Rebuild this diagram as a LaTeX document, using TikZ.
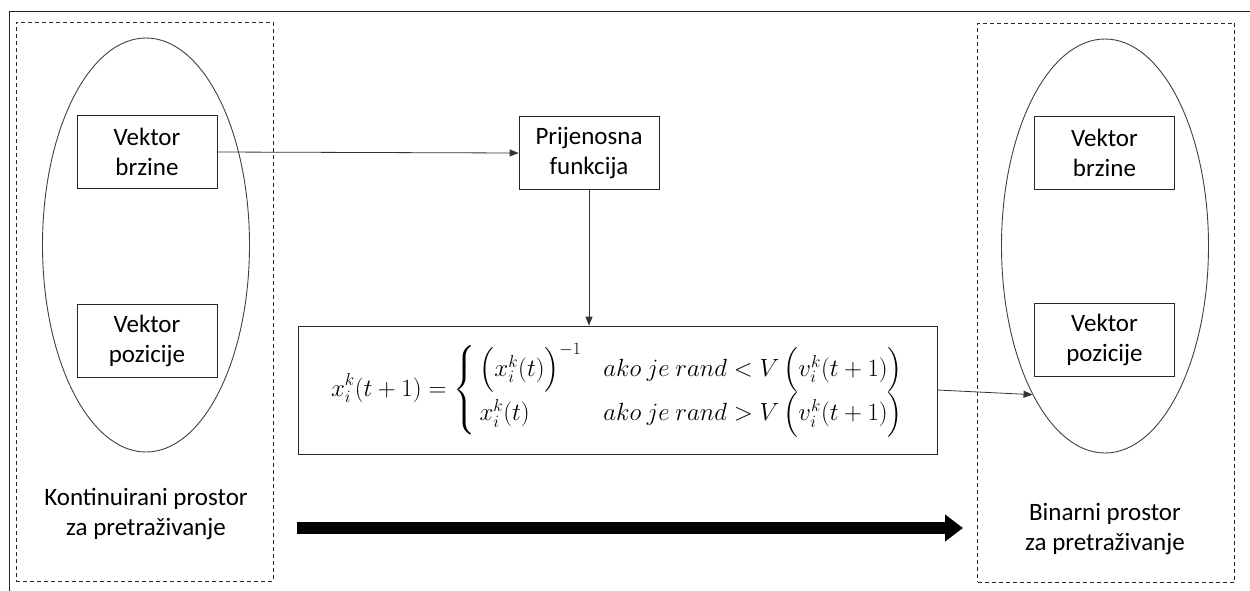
\documentclass[tikz,border=0pt]{standalone}
\usepackage{amsmath}
\usepackage{fontspec}
\setmainfont{Carlito}
\usetikzlibrary{arrows.meta,shapes.geometric}
\begin{document}
\begin{tikzpicture}[x=1pt,y=-1pt,
  thinline/.style={line width=0.8pt,draw=black!80},
  dashbox/.style={draw=black!85,line width=0.8pt,dash pattern=on 4pt off 3pt,inner sep=0pt},
  oval/.style={ellipse,draw=black!75,line width=0.9pt,minimum width=207pt,minimum height=414pt,inner sep=0pt},
  vbox/.style={draw=black!85,line width=0.8pt,minimum width=140pt,minimum height=73pt,align=center,font=\fontsize{25}{30.5}\selectfont,inner sep=0pt},
  lbl/.style={align=center,font=\fontsize{25}{30.5}\selectfont,inner sep=0pt},
  arr/.style={thinline,-{Triangle[length=9pt,width=7pt]}},
]
\useasboundingbox (0,0) rectangle (1250,590);
% outer frame
\draw[line width=0.8pt,draw=black!85] (9,595) -- (9,11) -- (1255,11);
% dashed regions
\node[dashbox,minimum width=257pt,minimum height=559pt] (lreg) at (144.5,301.5) {};
\node[dashbox,minimum width=257pt,minimum height=559pt] (rreg) at (1106,302.5) {};
% ellipses
\node[oval] (lell) at (146,245) {};
\node[oval] (rell) at (1105,246) {};
% boxes
\node[vbox] (lvb) at (147,152) {Vektor\\brzine};
\node[vbox] (lvp) at (147,341) {Vektor\\pozicije};
\node[vbox] (rvb) at (1104.5,153) {Vektor\\brzine};
\node[vbox] (rvp) at (1104.5,340) {Vektor\\pozicije};
\node[vbox] (pf) at (589,153) {Prijenosna\\funkcija};
\node[draw=black!85,line width=0.8pt,minimum width=639pt,minimum height=128pt,inner sep=0pt] (formula) at (617.5,390)
{\fontsize{25}{30}\selectfont$\displaystyle x_i^k(t+1)=\left\{\,\begin{array}{@{}l@{\hspace{22pt}}l@{}}\Bigl(x_i^k(t)\Bigr)^{-1} & ako\ je\ rand<V\,\Bigl(v_i^k(t+1)\Bigr)\\[6pt] x_i^k(t) & ako\ je\ rand>V\,\Bigl(v_i^k(t+1)\Bigr)\end{array}\right.$};
% labels
\node[lbl] (ltxt) at (146,514) {Kontinuirani prostor\\za pretraživanje};
\node[lbl] (rtxt) at (1105,529) {Binarni prostor\\za pretraživanje};
% connectors
\draw[arr] (lvb.east) -- (pf.west);
\draw[arr] (pf.south) -- (formula.north -| pf.south);
\draw[arr] (formula.east) -- (rell.244);
% thick arrow
\coordinate (ts) at (297,528);
\coordinate (te) at (963,528);
\draw[line width=12pt,-{Triangle[length=18pt,width=26pt]}] (ts) -- (te);
\end{tikzpicture}
\end{document}
